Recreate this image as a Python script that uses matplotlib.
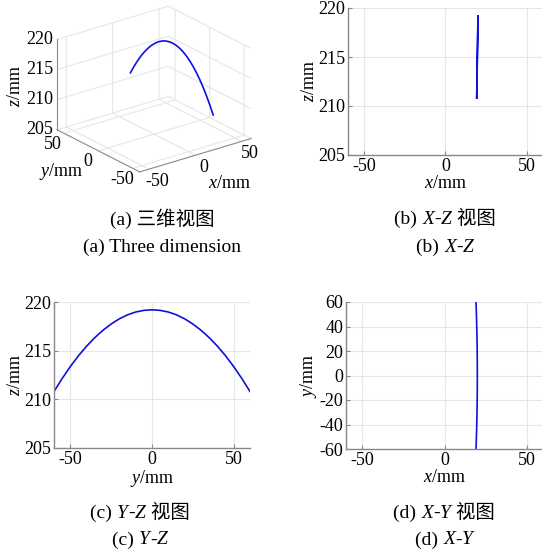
import numpy as np
import matplotlib.pyplot as plt
from mpl_toolkits.mplot3d import proj3d

plt.rcParams['font.family'] = ['Liberation Serif', 'Noto Sans CJK SC']
plt.rcParams['mathtext.fontset'] = 'custom'
plt.rcParams['mathtext.rm'] = 'Liberation Serif'
plt.rcParams['mathtext.it'] = 'Liberation Serif:italic'
plt.rcParams['axes.unicode_minus'] = False
plt.rcParams['font.size'] = 13

# curve points read from the views
y_pts = [-60, -55, -50, -45, -40, -35, -30, -25, -20, -15, -10, -5, 0,
         5, 10, 15, 20, 25, 30, 35, 40, 45, 50, 55, 60]
z_pts = [210.80, 212.14, 213.37, 214.48, 215.47, 216.34, 217.10, 217.74, 218.27,
         218.68, 218.97, 219.14, 219.20, 219.14, 218.97, 218.68, 218.27, 217.74,
         217.10, 216.34, 215.47, 214.48, 213.37, 212.14, 210.80]
x_pts = [19.20, 19.33, 19.44, 19.55, 19.64, 19.73, 19.80, 19.86, 19.91, 19.95,
         19.98, 19.99, 20.00, 19.99, 19.98, 19.95, 19.91, 19.86, 19.80, 19.73,
         19.64, 19.55, 19.44, 19.33, 19.20]

lim_xy = (-60, 60)
lim_z = (205, 220)
xy_ticks = [-50, 0, 50]
z_ticks = [205, 210, 215, 220]
y_ticks_d = [-60, -40, -20, 0, 20, 40, 60]

line_c = '#1010e0'
grid_c = '#e6e6e6'
spine_c = '#888888'

W, H = 542, 555
fig = plt.figure(figsize=(W / 100, H / 100), dpi=100)

def px(l, t, r, b):
    return [l / W, 1 - b / H, (r - l) / W, (b - t) / H]

def style2d(ax):
    ax.grid(True, color=grid_c, lw=0.8)
    ax.set_axisbelow(True)
    for s in ['top', 'right']:
        ax.spines[s].set_visible(False)
    for s in ['left', 'bottom']:
        ax.spines[s].set_color(spine_c)
        ax.spines[s].set_linewidth(1.0)
    ax.tick_params(direction='in', length=3, color=spine_c, pad=2, labelsize=13)
    ax.xaxis.labelpad = 0
    ax.yaxis.labelpad = 0

# (a) three-dimensional view
ax3 = fig.add_axes(px(10, -25, 300, 205), projection='3d', proj_type='ortho')
ax3.plot(x_pts, y_pts, z_pts, color=line_c, lw=1.2)
ax3.view_init(elev=23, azim=-127.5)
ax3.set_box_aspect((1, 0.97, 0.7), zoom=1.0)
ax3.set_xlim(lim_xy)
ax3.set_ylim(lim_xy)
ax3.set_zlim(lim_z)
ax3.set_xticks(xy_ticks)
ax3.set_yticks(xy_ticks)
ax3.set_zticks(z_ticks)
ax3.set_xticklabels([])
ax3.set_yticklabels([])
ax3.set_zticklabels([])
for axis in (ax3.xaxis, ax3.yaxis, ax3.zaxis):
    axis.set_pane_color((1, 1, 1, 0))
    axis.pane.set_edgecolor(grid_c)
    axis._axinfo['grid']['color'] = grid_c
    axis._axinfo['grid']['linewidth'] = 0.8
    axis._axinfo['tick']['inward_factor'] = 0
    axis._axinfo['tick']['outward_factor'] = 0
    axis.line.set_color(spine_c)

# fit the projected box onto the box seen in the reference (pixels)
box_l, box_r, box_t, box_b = 57, 251, 8, 170

def project(xx, yy, zz):
    xs, ys, _ = proj3d.proj_transform(np.array(xx, float), np.array(yy, float),
                                      np.array(zz, float), ax3.get_proj())
    p = ax3.transData.transform(np.column_stack([xs, ys]))
    p[:, 1] = H - p[:, 1]
    return p

fig.canvas.draw()
cx, cy, cz = zip(*[(a, b, c) for a in lim_xy for b in lim_xy for c in lim_z])
pts = project(cx, cy, cz)
bb = ax3.get_position()
acx, acy = (bb.x0 + bb.width / 2) * W, (1 - bb.y0 - bb.height / 2) * H
s = (box_r - box_l) / (pts[:, 0].max() - pts[:, 0].min())
bcx = (pts[:, 0].max() + pts[:, 0].min()) / 2
bcy = (pts[:, 1].max() + pts[:, 1].min()) / 2
ncx = (box_l + box_r) / 2 - s * (bcx - acx)
ncy = (box_t + box_b) / 2 - s * (bcy - acy)
nw, nh = s * bb.width * W, s * bb.height * H
ax3.set_position(px(ncx - nw / 2, ncy - nh / 2, ncx + nw / 2, ncy + nh / 2))
fig.canvas.draw()

# 3D tick labels, placed MATLAB-style next to the box edges
n = len(xy_ticks)
for (u, v), t in zip(project(xy_ticks, [lim_xy[0]] * n, [lim_z[0]] * n), xy_ticks):
    fig.text((u + 8) / W, 1 - (v + 12) / H, str(t), ha='center', va='center')
for (u, v), t in zip(project([lim_xy[0]] * n, xy_ticks, [lim_z[0]] * n), xy_ticks):
    fig.text((u - 11) / W, 1 - (v + 11) / H, str(t), ha='center', va='center')
m = len(z_ticks)
for (u, v), t in zip(project([lim_xy[0]] * m, [lim_xy[1]] * m, z_ticks), z_ticks):
    fig.text((u - 4) / W, 1 - v / H, str(t), ha='right', va='center')

fig.text(15 / W, 1 - 86 / H, '$z$/mm', rotation=90, ha='center', va='center')
fig.text(61 / W, 1 - 172 / H, '$y$/mm', ha='center', va='center')
fig.text(229 / W, 1 - 183 / H, '$x$/mm', ha='center', va='center')

# (b) X-Z view
axb = fig.add_axes(px(348, 8, 543, 155))
axb.plot(x_pts, z_pts, color=line_c, lw=1.2)
axb.set_xlim(lim_xy)
axb.set_ylim(lim_z)
axb.set_xticks(xy_ticks)
axb.set_yticks(z_ticks)
axb.set_xlabel('$x$/mm')
axb.set_ylabel('$z$/mm')
style2d(axb)

# (c) Y-Z view
axc = fig.add_axes(px(54, 302, 250, 448))
axc.plot(y_pts, z_pts, color=line_c, lw=1.2)
axc.set_xlim(lim_xy)
axc.set_ylim(lim_z)
axc.set_xticks(xy_ticks)
axc.set_yticks(z_ticks)
axc.set_xlabel('$y$/mm')
axc.set_ylabel('$z$/mm')
style2d(axc)

# (d) X-Y view
axd = fig.add_axes(px(346, 302, 543, 449))
axd.plot(x_pts, y_pts, color=line_c, lw=1.2)
axd.set_xlim(lim_xy)
axd.set_ylim(lim_xy)
axd.set_xticks(xy_ticks)
axd.set_yticks(y_ticks_d)
axd.set_xlabel('$x$/mm')
axd.set_ylabel('$y$/mm')
style2d(axd)

# captions: pieces of (text, style) laid out left to right, centred
renderer = fig.canvas.get_renderer()

def caption(cx, cy, parts, size=14):
    texts = []
    for s, st in parts:
        t = fig.text(0, 1 - cy / H, s, style=st, fontsize=size, ha='left', va='center')
        texts.append(t)
    widths = [t.get_window_extent(renderer).width for t in texts]
    x = cx - sum(widths) / 2
    for t, w in zip(texts, widths):
        t.set_x(x / W)
        x += w

N, I = 'normal', 'italic'
caption(162, 219, [('(a) 三维视图', N)])
caption(162, 247, [('(a) Three dimension', N)])
caption(445, 219, [('(b) ', N), ('X', I), ('-', N), ('Z', I), (' 视图', N)])
caption(445, 247, [('(b) ', N), ('X', I), ('-', N), ('Z', I)])
caption(140, 513, [('(c) ', N), ('Y', I), ('-', N), ('Z', I), (' 视图', N)])
caption(140, 540, [('(c) ', N), ('Y', I), ('-', N), ('Z', I)])
caption(444, 513, [('(d) ', N), ('X', I), ('-', N), ('Y', I), (' 视图', N)])
caption(444, 540, [('(d) ', N), ('X', I), ('-', N), ('Y', I)])

fig.savefig('out.png', dpi=100)
